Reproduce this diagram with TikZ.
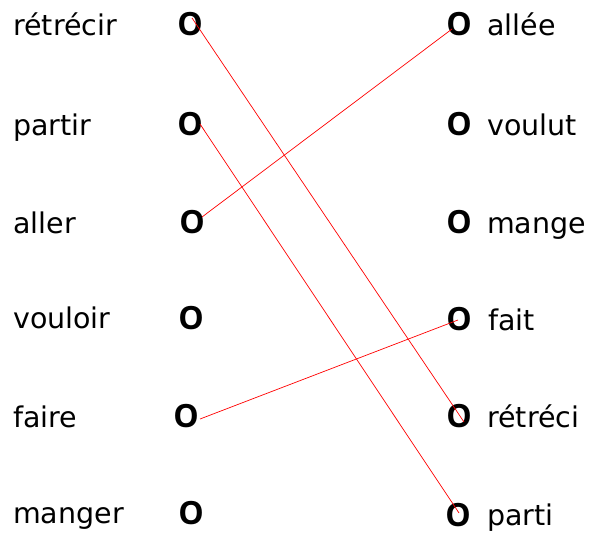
\documentclass[tikz,border=0pt]{standalone}
\usepackage{fontspec}
\setmainfont{DejaVu Sans}
\newfontfamily\ofont{Open Sans}
\usetikzlibrary{calc}
\begin{document}
\begin{tikzpicture}[x=1pt,y=-1pt,
  word/.style={anchor=base west,inner sep=0pt,font=\fontsize{28.5}{31}\selectfont},
  circ/.style={anchor=base,inner sep=0pt,font=\ofont\fontsize{32}{34}\selectfont\bfseries},
  link/.style={draw=red,line width=0.7pt}]
\useasboundingbox (0,0) rectangle (593,533);
% left words
\node[word] (w1) at (13,35) {rétrécir};
\node[word] (w2) at (13,135) {partir};
\node[word] (w3) at (13,233) {aller};
\node[word] (w4) at (13,328) {vouloir};
\node[word] (w5) at (13,427) {faire};
\node[word] (w6) at (13,523) {manger};
% left O
\node[circ] (L1) at (190,35) {O};
\node[circ] (L2) at (190,135) {O};
\node[circ] (L3) at (192,233) {O};
\node[circ] (L4) at (191,329) {O};
\node[circ] (L5) at (186,427) {O};
\node[circ] (L6) at (191,524) {O};
% right O
\node[circ] (R1) at (459,35) {O};
\node[circ] (R2) at (459,135) {O};
\node[circ] (R3) at (459,233) {O};
\node[circ] (R4) at (459,330) {O};
\node[circ] (R5) at (459,427) {O};
\node[circ] (R6) at (458,526) {O};
% right words
\node[word] (v1) at (487,35) {allée};
\node[word] (v2) at (487,135) {voulut};
\node[word] (v3) at (487,233) {mange};
\node[word] (v4) at (488,330) {fait};
\node[word] (v5) at (487,427) {rétréci};
\node[word] (v6) at (487,525) {parti};
% links
\draw[link] ($(L1.base)+(2,-17)$) -- ($(R5.base)+(5,-5)$);
\draw[link] ($(L2.base)+(10,-11)$) -- ($(R6.base)+(1,-13)$);
\draw[link] ($(L3.base)+(10,-16)$) -- ($(R1.base)+(-7,-6)$);
\draw[link] ($(L5.base)+(14,-8)$) -- ($(R4.base)+(-1,-10)$);
\end{tikzpicture}
\end{document}
